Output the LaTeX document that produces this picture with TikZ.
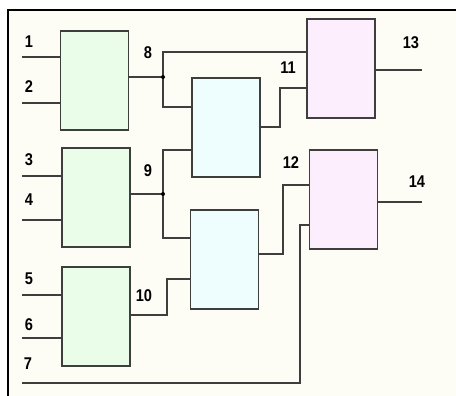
\documentclass[tikz,border=0pt]{standalone}
\usepackage{fontspec}
\setmainfont{Liberation Sans}
\newfontfamily\labelfont[FakeStretch=0.86]{Liberation Sans}
\definecolor{paper}{HTML}{FDFDF6}
\definecolor{wire}{HTML}{3E3E3E}
\definecolor{greenfill}{HTML}{E9FDE9}
\definecolor{cyanfill}{HTML}{EEFDFD}
\definecolor{pinkfill}{HTML}{FDEEFD}
\tikzset{
  block/.style={draw=wire, line width=1.3pt, minimum width=68pt, minimum height=99pt, inner sep=0pt},
  firstblock/.style={block, fill=greenfill},
  midblock/.style={block, fill=cyanfill},
  lastblock/.style={block, fill=pinkfill},
  wireline/.style={draw=wire, line width=1.2pt},
  lbl/.style={font=\labelfont\fontsize{17}{20}\selectfont\bfseries, inner sep=0pt},
  joint/.style={circle, fill=black, inner sep=0pt, minimum size=4pt}
}
\begin{document}
\begin{tikzpicture}[x=1pt,y=-1pt]
  \useasboundingbox (0,0) rectangle (456,396);
  \fill[white] (0,0) rectangle (456,396);
  \fill[paper] (8,10) rectangle (456,396);
  % frame edges
  \draw[black, line width=2.6pt] (8,396) -- (8,10) -- (456,10);

  % blocks
  \node[firstblock] (A) at (94.5,80.5) {};
  \node[firstblock] (B) at (96,197.5) {};
  \node[firstblock] (C) at (96,316.5) {};
  \node[midblock]   (D) at (226,127.5) {};
  \node[midblock]   (E) at (224.5,259.5) {};
  \node[lastblock]  (F) at (341,68.5) {};
  \node[lastblock]  (G) at (343.5,199.5) {};

  % input ends
  \coordinate (in1) at (22,57);
  \coordinate (in2) at (22,103);
  \coordinate (in3) at (22,176);
  \coordinate (in4) at (22,220);
  \coordinate (in5) at (22,295);
  \coordinate (in6) at (22,338);
  \coordinate (in7) at (22,383);
  % bends and branch points
  \coordinate (j8) at (163,77);
  \coordinate (j9) at (163,194);
  \coordinate (b10) at (167,315);
  \coordinate (b11) at (280,127);
  \coordinate (b12) at (283,254);
  \coordinate (b7) at (300,383);
  \coordinate (out13) at (422,70);
  \coordinate (out14) at (422,202);

  % inputs
  \draw[wireline] (in1) -- (in1 -| A.west);
  \draw[wireline] (in2) -- (in2 -| A.west);
  \draw[wireline] (in3) -- (in3 -| B.west);
  \draw[wireline] (in4) -- (in4 -| B.west);
  \draw[wireline] (in5) -- (in5 -| C.west);
  \draw[wireline] (in6) -- (in6 -| C.west);
  \draw[wireline] (in7) -- (b7) |- (G.west |- 0,225);

  % signal 8
  \draw[wireline] (A.east |- j8) -- (j8);
  \draw[wireline] (j8) |- (F.west |- 0,52);
  \draw[wireline] (j8) |- (D.west |- 0,107);
  % signal 9
  \draw[wireline] (B.east |- j9) -- (j9);
  \draw[wireline] (j9) |- (D.west |- 0,150);
  \draw[wireline] (j9) |- (E.west |- 0,238);
  % signal 10
  \draw[wireline] (C.east |- b10) -- (b10) |- (E.west |- 0,279);
  % signal 11
  \draw[wireline] (D.east |- b11) -- (b11) |- (F.west |- 0,88);
  % signal 12
  \draw[wireline] (E.east |- b12) -- (b12) |- (G.west |- 0,185);
  % outputs
  \draw[wireline] (F.east |- out13) -- (out13);
  \draw[wireline] (G.east |- out14) -- (out14);

  \node[joint] (d8) at (j8) {};
  \node[joint] (d9) at (j9) {};

  % labels
  \node[lbl] (l1) at (29,42) {1};
  \node[lbl] (l2) at (29,87) {2};
  \node[lbl] (l3) at (29,160) {3};
  \node[lbl] (l4) at (29,200) {4};
  \node[lbl] (l5) at (29,279) {5};
  \node[lbl] (l6) at (29,325) {6};
  \node[lbl] (l7) at (28,364) {7};
  \node[lbl] (l8) at (148,53) {8};
  \node[lbl] (l9) at (148,171) {9};
  \node[lbl] (l10) at (144,296) {10};
  \node[lbl] (l11) at (288,68) {11};
  \node[lbl] (l12) at (291,163) {12};
  \node[lbl] (l13) at (411,43) {13};
  \node[lbl] (l14) at (417,182) {14};
\end{tikzpicture}
\end{document}
